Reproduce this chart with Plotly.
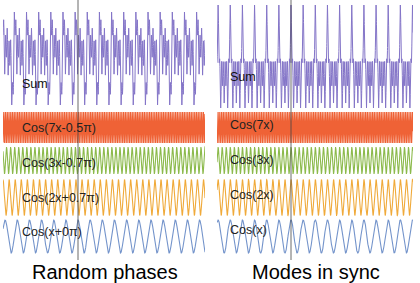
import numpy as np
import plotly.graph_objects as go

# ---- data ----
mode_freqs = [7, 3, 2, 1]                      # harmonic numbers, top to bottom
random_phases_pi = [-0.5, -0.7, 0.7, 0.0]      # phases (in units of pi), left panel
sync_phases_pi = [0.0, 0.0, 0.0, 0.0]          # phases (in units of pi), right panel
left_labels = ["Cos(7x-0.5π)", "Cos(3x-0.7π)", "Cos(2x+0.7π)", "Cos(x+0π)"]
right_labels = ["Cos(7x)", "Cos(3x)", "Cos(2x)", "Cos(x)"]
panel_titles = ["Random phases", "Modes in sync"]
sum_label = "Sum"

colors = ["#ef6236", "#8cba4c", "#f0aa3a", "#7494cb"]
sum_color = "#8475c8"

# ---- layout constants (pixel rows) ----
W, H = 420, 283
band_center = [127.5, 160.5, 197.5, 236.5]
band_half = [15.5, 13.5, 18.0, 16.5]
sum_top = [12, 5]
sum_bot = [105, 108]

period_px = 12.15
panels = [
    dict(x0=3, x1=205, line=78, phases=random_phases_pi, labels=left_labels, xa="x", ya="y"),
    dict(x0=217, x1=413, line=291, phases=sync_phases_pi, labels=right_labels, xa="x2", ya="y"),
]

fig = go.Figure()
layout_axes = {}
annotations = []
shapes = []

for i, p in enumerate(panels):
    lo = -(p["line"] - p["x0"]) / period_px * 2 * np.pi
    hi = (p["x1"] - p["line"]) / period_px * 2 * np.pi
    x = np.linspace(lo, hi, 5000)
    comps = [np.cos(f * x + ph * np.pi) for f, ph in zip(mode_freqs, p["phases"])]
    s = np.sum(comps, axis=0)
    smin, smax = s.min(), s.max()
    smid, shalf = (smax + smin) / 2, (smax - smin) / 2
    c = (sum_top[i] + sum_bot[i]) / 2
    h = (sum_bot[i] - sum_top[i]) / 2
    fig.add_trace(go.Scatter(x=x, y=c - h * (s - smid) / shalf, mode="lines",
                             line=dict(color=sum_color, width=1), xaxis=p["xa"], yaxis=p["ya"],
                             showlegend=False, hoverinfo="skip"))
    for k, comp in enumerate(comps):
        fig.add_trace(go.Scatter(x=x, y=band_center[k] - band_half[k] * comp, mode="lines",
                                 line=dict(color=colors[k], width=1.2 if k == 0 else 1.1),
                                 xaxis=p["xa"], yaxis=p["ya"], showlegend=False, hoverinfo="skip"))
    key = "xaxis" if i == 0 else "xaxis2"
    layout_axes[key] = dict(domain=[p["x0"] / W, p["x1"] / W], range=[lo, hi], visible=False)

    xr = p["xa"]
    shapes.append(dict(type="line", xref=xr, yref="y", x0=0, x1=0, y0=0, y1=260,
                       line=dict(color="#444444", width=0.8)))
    lab_x = 20 if i == 0 else 228
    sum_y = 84 if i == 0 else 77
    label_ys = [128, 163, 198, 232] if i == 0 else [125, 160, 195, 230]
    annotations.append(dict(text=sum_label, xref="paper", yref="y", x=lab_x / W, y=sum_y,
                            xanchor="left", yanchor="middle", showarrow=False,
                            font=dict(size=12.5, color="#111111")))
    for lab, ly in zip(p["labels"], label_ys):
        annotations.append(dict(text=lab, xref="paper", yref="y", x=lab_x / W, y=ly,
                                xanchor="left", yanchor="middle", showarrow=False,
                                font=dict(size=12.5, color="#222222")))
    tx = 105 if i == 0 else 316
    annotations.append(dict(text=panel_titles[i], xref="paper", yref="y", x=tx / W, y=272,
                            xanchor="center", yanchor="middle", showarrow=False,
                            font=dict(size=20, color="#000000")))

fig.update_layout(
    width=W, height=H, margin=dict(l=0, r=0, t=0, b=0),
    paper_bgcolor="white", plot_bgcolor="white",
    font=dict(family="Liberation Sans, Arial, sans-serif"),
    yaxis=dict(domain=[0, 1], range=[H, 0], visible=False),
    annotations=annotations, shapes=shapes,
    **layout_axes,
)
fig.write_html("out.html")
